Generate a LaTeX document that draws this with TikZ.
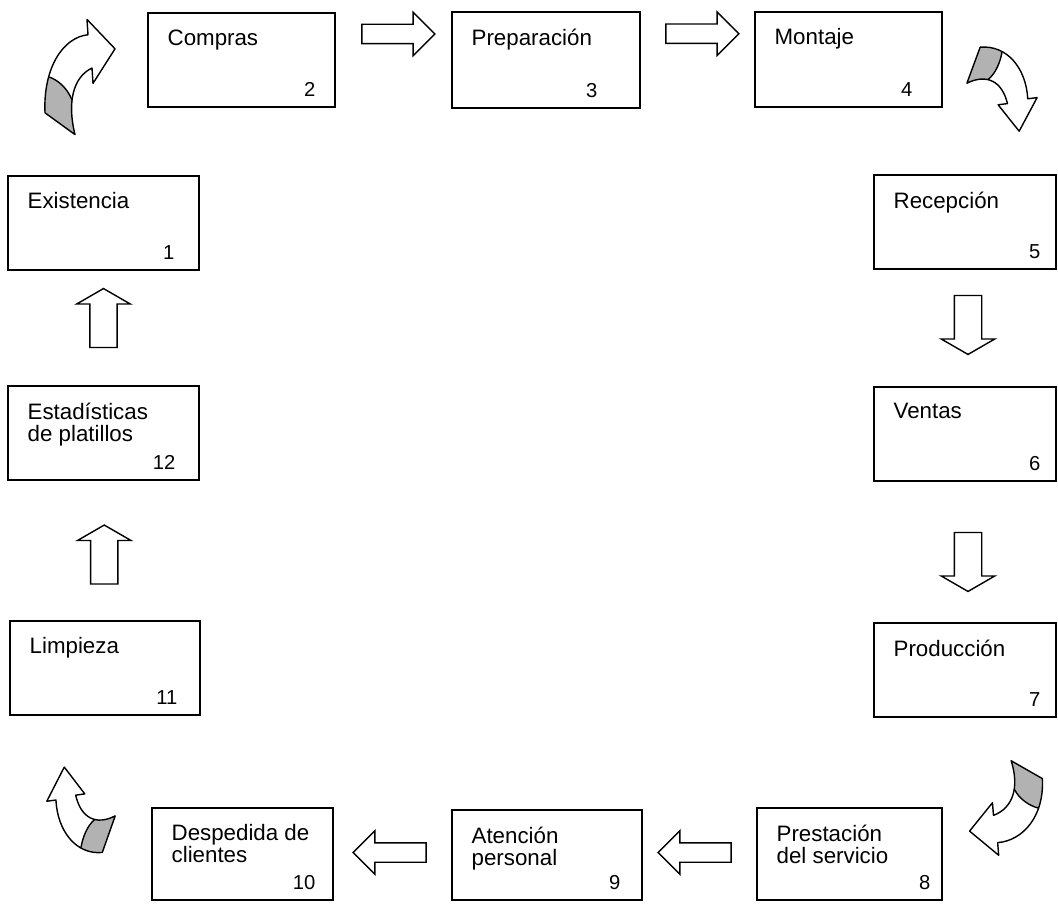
\documentclass[tikz,border=0pt]{standalone}
\usepackage{fontspec}
\setmainfont{Liberation Sans}
\usetikzlibrary{shapes.arrows,calc}

% outline of the curved arrow, head pointing right, tail at the bottom
\newcommand\contornovuelta{(-34,28) .. controls (-36,-7) and (-16,-31) .. (9,-33) -- (8,-45) -- (36,-22) -- (14,5) -- (13,-7) .. controls (-6,0) and (-12,20) .. (-4,45) -- cycle}

\tikzset{
  caja/.style={draw, line width=0.8pt, inner sep=0pt},
  titulo/.style={anchor=north west, inner sep=0pt, align=left, font=\fontsize{12.7}{12.5}\selectfont},
  numero/.style={anchor=base east, inner sep=0pt, font=\fontsize{11.5}{12}\selectfont},
  flecha/.style={draw, line width=0.8pt, single arrow, fill=white, inner xsep=0pt},
  fleh/.style={flecha, minimum height=1.46cm, minimum width=0.84cm, inner ysep=0.18cm, single arrow head extend=0.24cm},
  flev/.style={flecha, minimum height=1.18cm, minimum width=1.04cm, inner ysep=0.26cm, single arrow head extend=0.26cm, single arrow tip angle=120},
  sombra/.style={fill=gray!60},
  vuelta/.pic={
    \fill[white] \contornovuelta;
    \begin{scope}
      \clip \contornovuelta;
      \fill[sombra] (-45,-5) -- (-30,0) .. controls (-22,2) and (-12,8) .. (-7,18) -- (10,60) -- (-45,60) -- cycle;
    \end{scope}
    \draw[line width=0.8pt, line join=round] \contornovuelta;
    \draw[line width=0.8pt] (-30,0) .. controls (-22,2) and (-12,8) .. (-7,18);
  }
}

\begin{document}
\begin{tikzpicture}[x=0.02cm, y=-0.02cm]
\useasboundingbox (0,0) rectangle (1058,905);

% boxes: number / left / top / right / bottom / title / gap of the number
\foreach \n/\xa/\ya/\xb/\yb/\txt/\dx in {
    1/8/176/199/270/Existencia/25,
    2/148/13/335/107/Compras/20,
    3/452/12/640/108/Preparación/43,
    4/755/12/942/107/Montaje/30,
    5/874/175/1056/269/Recepción/16,
    6/874/387/1056/481/Ventas/16,
    7/874/623/1056/717/Producción/16,
    8/757/808/942/900/{Prestación\\del servicio}/12,
    9/452/810/642/900/{Atención\\personal}/22,
    10/152/808/333/900/{Despedida de\\clientes}/18,
    11/10/621/200/715/Limpieza/23,
    12/8/386/199/480/{Estadísticas\\de platillos}/24}
{
  \node[caja, minimum width={(\xb-\xa)*0.02cm}, minimum height={(\yb-\ya)*0.02cm}]
    (b\n) at ({(\xa+\xb)/2},{(\ya+\yb)/2}) {};
  \node[titulo] (t\n) at ($(b\n.north west)+(20,17)$) {\txt};
  \node[numero] (n\n) at ($(b\n.south east)+(-\dx,-11)$) {\n};
}

% straight block arrows
\node[fleh] (f23) at ($(b2.east)!.5!(b3.west)+(0,-26)$) {};
\node[fleh] (f34) at ($(b3.east)!.5!(b4.west)+(0,-26)$) {};
\node[flev, rotate=-90] (f56) at ($(b5.south)!.5!(b6.north)+(3,-7)$) {};
\node[flev, rotate=-90] (f67) at ($(b6.south)!.5!(b7.north)+(3,6)$) {};
\node[fleh, rotate=180] (f89) at ($(b8.west)!.5!(b9.east)+(0,-2)$) {};
\node[fleh, rotate=180] (f910) at ($(b9.west)!.5!(b10.east)+(2,-2)$) {};
\node[flev, rotate=90] (f1112) at ($(b11.north)!.5!(b12.south)+(0,8)$) {};
\node[flev, rotate=90] (f121) at ($(b12.north)!.5!(b1.south)+(0,-6)$) {};

% curved arrows in the corners
\pic[yscale=1.28] (v12) at (79,77) {vuelta};
\pic[rotate=-90, xscale=1.2, yscale=.78] (v45) at (1002,88) {vuelta};
\pic[rotate=180, xscale=1.04, yscale=1.05] (v78) at (1007,808) {vuelta};
\pic[rotate=90, xscale=1.22, yscale=.76] (v1011) at (81,811) {vuelta};
\end{tikzpicture}
\end{document}
